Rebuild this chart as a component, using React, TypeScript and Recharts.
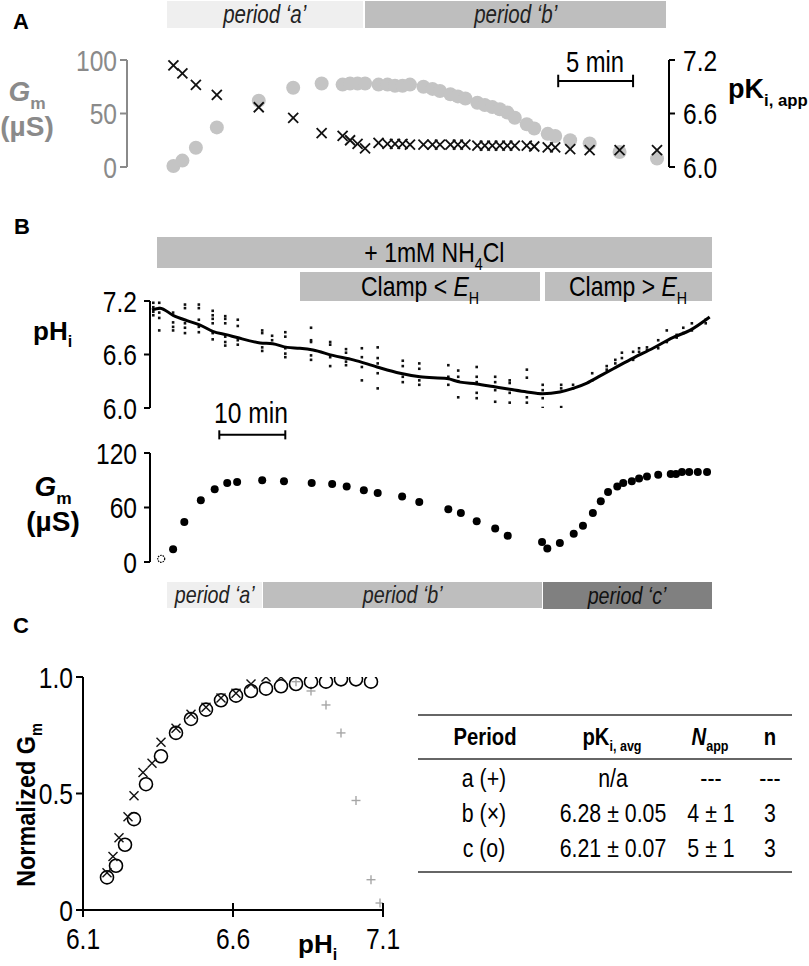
import React from 'react';
import { ScatterChart, Scatter, XAxis, YAxis, ReferenceLine } from 'recharts';

const SANS = "'Liberation Sans', Arial, sans-serif";
const NARROW_X = 0.82; // the figure's type is condensed; Arial Narrow is not installed

// ---- Panel A: time (min), Gm (µS) and pKi,app
const timeA = [0, 0.6, 1.5, 2.9, 5.7, 8.0, 9.9, 11.3, 11.8, 12.3, 12.8, 13.7, 14.3, 14.8, 15.3, 15.8, 16.7, 17.3, 17.8, 18.5, 19.0, 19.5, 20.3, 20.8, 21.3, 21.8, 22.3, 22.8, 23.6, 24.1, 25.0, 25.5, 26.5, 27.8, 29.8, 32.3];
const gmA = [1, 6, 18, 37, 62, 74, 78, 77, 78, 78, 78, 77, 77, 76, 76, 77, 75, 73, 71, 68, 66, 64, 60, 58, 56, 54, 51, 46, 40, 36, 31, 29, 25, 22, 14, 8];
const pKiA = [7.14, 7.05, 6.92, 6.81, 6.67, 6.55, 6.38, 6.35, 6.30, 6.26, 6.21, 6.27, 6.26, 6.26, 6.26, 6.25, 6.25, 6.25, 6.25, 6.25, 6.25, 6.25, 6.24, 6.24, 6.24, 6.24, 6.24, 6.24, 6.24, 6.23, 6.22, 6.22, 6.20, 6.19, 6.19, 6.19];
const gmATicks = [0, 50, 100];
const pKiTicks = [6.0, 6.6, 7.2];

// ---- Panel B: pHi mean trace, replicate dots, Gm
const timeMean = [0.3, 1.5, 3.5, 5.6, 7.6, 9.5, 11.7, 13.2, 16.7, 18.6, 20.8, 22.7, 24.7, 27.7, 30.8, 34.4, 37.9, 40.9, 45.0, 47.0, 49.5, 52.0, 54.5, 57.1, 59.5, 62.1, 64.1, 66.2, 68.2, 70.2, 73.2, 76.2, 79.2, 81.8, 84.8];
const pHiMean = [7.10, 7.12, 7.04, 6.98, 6.93, 6.86, 6.82, 6.79, 6.73, 6.72, 6.68, 6.67, 6.65, 6.59, 6.54, 6.46, 6.39, 6.35, 6.33, 6.29, 6.27, 6.24, 6.21, 6.18, 6.16, 6.18, 6.22, 6.28, 6.36, 6.44, 6.56, 6.67, 6.79, 6.87, 7.02];
const dotTimes = [0.5, 1.4, 3.5, 5.3, 7.4, 9.5, 11.4, 13.3, 17.0, 18.5, 20.5, 24.4, 27.3, 29.7, 32.1, 34.5, 38.3, 40.8, 45.2, 46.7, 49.5, 52.3, 54.5, 57.1, 59.5, 62.3, 64.1, 67.0, 69.2, 70.5, 71.5, 73.2, 74.1, 75.3, 77.0, 78.3, 79.8, 80.8, 82.1, 84.2];
const dotValues = [
  [7.18, 7.13, 7.08, 7.04],
  [7.18, 7.12, 7.07, 7.01, 6.87],
  [7.07, 6.96, 6.91, 6.87],
  [7.16, 7.12, 6.95, 6.90, 6.84],
  [7.16, 7.12, 6.99, 6.91, 6.85],
  [7.09, 7.04, 7.00, 6.95, 6.84, 6.77],
  [7.03, 7.00, 6.95, 6.80, 6.74, 6.70],
  [6.99, 6.92, 6.76, 6.71],
  [6.87, 6.84, 6.68, 6.64],
  [6.81, 6.76],
  [6.85, 6.80, 6.67, 6.61, 6.57],
  [6.90, 6.76, 6.74, 6.59, 6.54],
  [6.74, 6.71, 6.57, 6.47],
  [6.66, 6.62, 6.52, 6.48],
  [6.67, 6.57, 6.46, 6.31],
  [6.68, 6.56, 6.50, 6.39, 6.22],
  [6.53, 6.47, 6.35, 6.29],
  [6.50, 6.44, 6.31, 6.26],
  [6.48, 6.35, 6.26],
  [6.42, 6.35, 6.30, 6.12],
  [6.46, 6.35, 6.29, 6.17, 6.11],
  [6.35, 6.29, 6.20, 6.07],
  [6.31, 6.28, 6.17, 6.06],
  [6.43, 6.34, 6.12, 6.06],
  [6.26, 6.20, 6.11, 6.00],
  [6.26, 6.22, 6.01],
  [6.26, 6.22],
  [6.39, 6.31],
  [6.47, 6.43],
  [6.54, 6.50],
  [6.62, 6.56],
  [6.63, 6.54],
  [6.67, 6.63],
  [6.68, 6.65],
  [6.76, 6.67],
  [6.87, 6.74],
  [6.82, 6.79],
  [6.90, 6.84],
  [6.95, 6.87],
  [6.99, 6.95],
];
const timeGmB = [3.5, 5.2, 7.7, 9.8, 11.7, 13.2, 17.0, 20.3, 24.5, 27.6, 29.8, 32.4, 34.5, 38.2, 40.8, 45.2, 47.1, 49.5, 52.3, 54.2, 59.4, 60.2, 62.1, 64.2, 65.6, 67.1, 68.3, 69.4, 70.8, 71.7, 73.0, 74.1, 75.3, 77.0, 78.9, 79.7, 80.6, 81.7, 83.0, 84.4];
const gmB = [14, 44, 68, 80, 87, 88, 90, 89, 87, 86, 83, 79, 76, 72, 66, 58, 54, 45, 37, 29, 22, 15, 21, 31, 40, 54, 67, 77, 83, 87, 89, 92, 94, 96, 97, 97, 99, 99, 99, 99];
const gmBFirst = [{ x: 1.7, y: 3.5 }];
const pHiTicks = [6.0, 6.6, 7.2];
const gmBTicks = [0, 60, 120];

// ---- Panel C: normalized Gm vs pHi
const phC_c = [6.18, 6.21, 6.24, 6.27, 6.31, 6.36, 6.41, 6.46, 6.51, 6.56, 6.61, 6.66, 6.71, 6.76, 6.81, 6.86, 6.91, 6.96, 7.01, 7.06];
const gmC_c = [0.14, 0.19, 0.28, 0.39, 0.54, 0.66, 0.76, 0.82, 0.86, 0.90, 0.92, 0.94, 0.95, 0.96, 0.97, 0.98, 0.98, 0.99, 0.99, 0.98];
const phC_b = [6.18, 6.20, 6.22, 6.25, 6.27, 6.30, 6.33, 6.36, 6.41, 6.46, 6.51, 6.56, 6.61, 6.66, 6.71, 6.76];
const gmC_b = [0.16, 0.23, 0.31, 0.40, 0.49, 0.59, 0.63, 0.72, 0.78, 0.84, 0.87, 0.91, 0.93, 0.97, 1.00, 1.00];
const phC_a = [6.81, 6.86, 6.91, 6.96, 7.01, 7.06, 7.09];
const gmC_a = [0.98, 0.94, 0.88, 0.76, 0.47, 0.13, 0.03];
const phTicksC = [6.1, 6.6, 7.1];
const gmTicksC = [0, 0.5, 1.0];

// ---- Table
const tableRows = [
  ['a (+)', 'n/a', '---', '---'],
  ['b (×)', '6.28 ± 0.05', '4 ± 1', '3'],
  ['c (o)', '6.21 ± 0.07', '5 ± 1', '3'],
];

const pts = (xs: number[], ys: number[]) => xs.map((x, i) => ({ x, y: ys[i] }));
const dotPts = dotTimes.flatMap((t, i) => dotValues[i].map((v) => ({ x: t, y: v })));

const xMark = (h: number, color: string, w: number) => (p: any) => (
  <g>
    <line x1={p.cx - h} y1={p.cy - h} x2={p.cx + h} y2={p.cy + h} stroke={color} strokeWidth={w} />
    <line x1={p.cx - h} y1={p.cy + h} x2={p.cx + h} y2={p.cy - h} stroke={color} strokeWidth={w} />
  </g>
);
const plusMark = (h: number, color: string, w: number) => (p: any) => (
  <g>
    <line x1={p.cx - h} y1={p.cy} x2={p.cx + h} y2={p.cy} stroke={color} strokeWidth={w} />
    <line x1={p.cx} y1={p.cy - h} x2={p.cx} y2={p.cy + h} stroke={color} strokeWidth={w} />
  </g>
);
const disc = (r: number, fill: string) => (p: any) => <circle cx={p.cx} cy={p.cy} r={r} fill={fill} />;
const ring = (r: number) => (p: any) => <circle cx={p.cx} cy={p.cy} r={r} fill="none" stroke="#000" strokeWidth={1.6} />;
const square = (p: any) => <rect x={p.cx - 1.3} y={p.cy - 1.3} width={2.6} height={2.6} fill="#111" />;
const nothing = () => <g />;

const f1 = (v: number) => v.toFixed(1);

// condensed tick text
const narrowTick = (anchor: string, dy: string, fill = '#000', size = 30, fmt?: (v: number) => string) => (p: any) => (
  <g transform={`translate(${p.x},${p.y}) scale(${NARROW_X},1)`}>
    <text x={0} y={0} dy={dy} textAnchor={anchor} fill={fill} fontSize={size} fontFamily={SANS}>
      {fmt ? fmt(p.payload.value) : String(p.payload.value)}
    </text>
  </g>
);

// x tick for panel C: mark crossing the axis line, then condensed label
const crossTickC = (gap: number) => (p: any) => (
  <g>
    <line x1={p.x} x2={p.x} y1={p.y - gap - 7} y2={p.y - gap + 7} stroke="#000" strokeWidth={2} />
    <g transform={`translate(${p.x},${p.y}) scale(${NARROW_X},1)`}>
      <text x={0} y={0} dy="0.71em" textAnchor="middle" fill="#000" fontSize={30} fontFamily={SANS}>
        {f1(p.payload.value)}
      </text>
    </g>
  </g>
);

function Txt({ x, y, children, style, sx = NARROW_X }: any) {
  return (
    <div style={{ position: 'absolute', left: x, top: y, transform: `translate(-50%, -50%) scaleX(${sx})`, whiteSpace: 'nowrap', lineHeight: 1, ...style }}>
      {children}
    </div>
  );
}

function Band({ x0, x1, y0, y1, fill, children, style }: any) {
  return (
    <div style={{ position: 'absolute', left: x0, top: y0, width: x1 - x0, height: y1 - y0, background: fill, display: 'flex', alignItems: 'center', justifyContent: 'center', whiteSpace: 'nowrap', color: '#222', lineHeight: 1, ...style }}>
      <span style={{ display: 'inline-block', transform: `scaleX(${NARROW_X})` }}>{children}</span>
    </div>
  );
}

const periodStyle = { fontStyle: 'italic', fontSize: 25 };
const subStyle = { fontSize: '0.62em', verticalAlign: '-0.45em', lineHeight: 0, fontStyle: 'normal' };
const bold = { fontFamily: SANS, fontWeight: 'bold' };

const scaleBar = (x0: number, x1: number, y: number, cap: number, yAxisId: any) => [
  <ReferenceLine key="h" yAxisId={yAxisId} ifOverflow="visible" segment={[{ x: x0, y }, { x: x1, y }]} stroke="#000" strokeWidth={2} />,
  <ReferenceLine key="l" yAxisId={yAxisId} ifOverflow="visible" segment={[{ x: x0, y: y - cap }, { x: x0, y: y + cap }]} stroke="#000" strokeWidth={2} />,
  <ReferenceLine key="r" yAxisId={yAxisId} ifOverflow="visible" segment={[{ x: x1, y: y - cap }, { x: x1, y: y + cap }]} stroke="#000" strokeWidth={2} />,
];

export default function App() {
  const axBlack = { stroke: '#000', strokeWidth: 2 };
  const axGrey = { stroke: '#8a8a8a', strokeWidth: 2 };
  return (
    <div style={{ position: 'absolute', left: 0, top: 0, width: 809, height: 966, background: '#fff', overflow: 'hidden', fontFamily: SANS, color: '#000' }}>
      {/* ---------- A ---------- */}
      <div style={{ position: 'absolute', left: 13, top: 9, fontSize: 22, ...bold }}>A</div>
      <Band x0={167} x1={363} y0={1} y1={28} fill="#efefef" style={periodStyle}>period ‘a’</Band>
      <Band x0={365} x1={666} y0={1} y1={28} fill="#bebebe" style={periodStyle}>period ‘b’</Band>
      <div style={{ position: 'absolute', left: 0, top: 0 }}>
        <ScatterChart width={809} height={190} margin={{ top: 60, right: 80, bottom: 23, left: 67 }}>
          <XAxis type="number" dataKey="x" hide domain={[-3.1, 33.1]} allowDataOverflow />
          <YAxis yAxisId="l" orientation="left" type="number" dataKey="y" domain={[0, 100]} ticks={gmATicks} width={60}
            axisLine={axGrey} tickLine={axGrey} tick={narrowTick('end', '0.355em', '#8a8a8a', 30)} tickSize={7} tickMargin={3} />
          <YAxis yAxisId="r" orientation="right" type="number" dataKey="y" domain={[6.0, 7.2]} ticks={pKiTicks} width={60}
            axisLine={axBlack} tickLine={axBlack} tick={narrowTick('start', '0.355em', '#000', 30, f1)} tickSize={6} tickMargin={8} />
          {scaleBar(25.7, 30.7, 6.965, 0.07, 'r')}
          <Scatter yAxisId="l" data={pts(timeA, gmA)} shape={disc(7, '#c4c4c4')} isAnimationActive={false} />
          <Scatter yAxisId="r" data={pts(timeA, pKiA)} shape={xMark(5, '#111', 1.8)} isAnimationActive={false} />
        </ScatterChart>
      </div>
      <Txt x={595} y={62} style={{ fontSize: 29 }}>5 min</Txt>
      <Txt x={27} y={92} sx={1} style={{ color: '#8a8a8a', fontSize: 28, ...bold }}><i>G</i><span style={subStyle}>m</span></Txt>
      <Txt x={27} y={127} sx={1} style={{ color: '#8a8a8a', fontSize: 28, ...bold }}>(µS)</Txt>
      <div style={{ position: 'absolute', left: 728, top: 76, fontSize: 27, lineHeight: 1, ...bold }}>
        pK<span style={subStyle}>i, app</span>
      </div>

      {/* ---------- B ---------- */}
      <div style={{ position: 'absolute', left: 14, top: 214, fontSize: 22, ...bold }}>B</div>
      <Band x0={157} x1={712} y0={237} y1={268} fill="#bebebe" style={{ fontSize: 28, color: '#000' }}>
        + 1mM NH<span style={subStyle}>4</span>Cl
      </Band>
      <Band x0={300} x1={540} y0={272} y1={301} fill="#bebebe" style={{ fontSize: 28, color: '#000' }}>
        Clamp &lt; <i>E</i><span style={subStyle}>H</span>
      </Band>
      <Band x0={545} x1={712} y0={272} y1={301} fill="#bebebe" style={{ fontSize: 28, color: '#000' }}>
        Clamp &gt; <i>E</i><span style={subStyle}>H</span>
      </Band>
      <div style={{ position: 'absolute', left: 0, top: 280 }}>
        <ScatterChart width={809} height={150} margin={{ top: 21, right: 98, bottom: 22, left: 90 }}>
          <XAxis type="number" dataKey="x" hide domain={[0, 85]} allowDataOverflow />
          <YAxis type="number" dataKey="y" domain={[6.0, 7.2]} ticks={pHiTicks} width={60} allowDataOverflow
            axisLine={axBlack} tickLine={axBlack} tick={narrowTick('end', '0.355em', '#000', 30, f1)} tickSize={6} tickMargin={7} />
          <Scatter data={dotPts} shape={square} isAnimationActive={false} />
          <Scatter data={pts(timeMean, pHiMean)} shape={nothing} line={{ stroke: '#000', strokeWidth: 3 }} lineJointType="monotoneX" isAnimationActive={false} />
        </ScatterChart>
      </div>
      <div style={{ position: 'absolute', left: 33, top: 318, fontSize: 26, lineHeight: 1, ...bold }}>
        pH<span style={subStyle}>i</span>
      </div>
      <div style={{ position: 'absolute', left: 0, top: 395 }}>
        <ScatterChart width={809} height={185} margin={{ top: 58, right: 98, bottom: 18, left: 90 }}>
          <XAxis type="number" dataKey="x" hide domain={[0, 85]} allowDataOverflow />
          <YAxis type="number" dataKey="y" domain={[0, 120]} ticks={gmBTicks} width={60}
            axisLine={axBlack} tickLine={axBlack} tick={narrowTick('end', '0.355em', '#000', 30)} tickSize={6} tickMargin={7} />
          {scaleBar(10.5, 20.5, 140, 5, 0)}
          <Scatter data={gmBFirst} shape={(p: any) => <circle cx={p.cx} cy={p.cy} r={3.5} fill="none" stroke="#000" strokeWidth={1.2} strokeDasharray="1.5 1" />} isAnimationActive={false} />
          <Scatter data={pts(timeGmB, gmB)} shape={disc(4, '#000')} isAnimationActive={false} />
        </ScatterChart>
      </div>
      <Txt x={251} y={413} style={{ fontSize: 30 }}>10 min</Txt>
      <Txt x={53} y={487} sx={1} style={{ fontSize: 28, ...bold }}><i>G</i><span style={subStyle}>m</span></Txt>
      <Txt x={53} y={522} sx={1} style={{ fontSize: 28, ...bold }}>(µS)</Txt>
      <Band x0={167} x1={262} y0={582} y1={608} fill="#efefef" style={{ ...periodStyle, fontSize: 24 }}>period ‘a’</Band>
      <Band x0={263} x1={542} y0={582} y1={608} fill="#bebebe" style={{ ...periodStyle, fontSize: 24 }}>period ‘b’</Band>
      <Band x0={543} x1={712} y0={582} y1={609} fill="#808080" style={{ ...periodStyle, fontSize: 24, color: '#111' }}>period ‘c’</Band>

      {/* ---------- C ---------- */}
      <div style={{ position: 'absolute', left: 13, top: 613, fontSize: 22, ...bold }}>C</div>
      <div style={{ position: 'absolute', left: 0, top: 640 }}>
        <ScatterChart width={420} height={320} margin={{ top: 37, right: 37, bottom: 10, left: 13 }}>
          <XAxis type="number" dataKey="x" domain={[6.1, 7.1]} ticks={phTicksC} height={40} allowDataOverflow
            axisLine={axBlack} tickLine={false} tick={crossTickC(18)} tickSize={7} tickMargin={11} />
          <YAxis type="number" dataKey="y" domain={[0, 1]} ticks={gmTicksC} width={70} allowDataOverflow
            axisLine={axBlack} tickLine={axBlack} tick={narrowTick('end', '0.355em', '#000', 30, (v: number) => (v === 0 ? '0' : v.toFixed(1)))} tickSize={7} tickMargin={3} />
          <Scatter data={pts(phC_a, gmC_a)} shape={plusMark(4.5, '#a6a6a6', 1.4)} isAnimationActive={false} />
          <Scatter data={pts(phC_c, gmC_c)} shape={ring(6.5)} isAnimationActive={false} />
          <Scatter data={pts(phC_b, gmC_b)} shape={xMark(4.5, '#111', 1.4)} isAnimationActive={false} />
        </ScatterChart>
      </div>
      <div style={{ position: 'absolute', left: 26, top: 805, transform: 'translate(-50%, -50%) rotate(-90deg) scaleX(0.9)', whiteSpace: 'nowrap', fontSize: 26, lineHeight: 1, ...bold }}>
        Normalized G<i style={subStyle}>m</i>
      </div>
      <div style={{ position: 'absolute', left: 298, top: 931, fontSize: 26, lineHeight: 1, ...bold }}>
        pH<span style={subStyle}>i</span>
      </div>

      {/* ---------- table ---------- */}
      <div style={{ position: 'absolute', left: 418, top: 714, width: 374, height: 2, background: '#666' }} />
      <div style={{ position: 'absolute', left: 418, top: 758, width: 374, height: 2, background: '#666' }} />
      <div style={{ position: 'absolute', left: 418, top: 871, width: 374, height: 2, background: '#666' }} />
      <Txt x={485} y={737} sx={0.88} style={{ fontSize: 23, ...bold }}>Period</Txt>
      <Txt x={612} y={737} sx={0.88} style={{ fontSize: 23, ...bold }}>pK<span style={subStyle}>i, avg</span></Txt>
      <Txt x={710} y={737} sx={0.88} style={{ fontSize: 23, ...bold }}><i>N</i><span style={subStyle}>app</span></Txt>
      <Txt x={770} y={737} sx={0.88} style={{ fontSize: 23, ...bold }}>n</Txt>
      {tableRows.map((row, r) =>
        row.map((cell, c) => (
          <Txt key={`${r}-${c}`} x={[484, 613, 711, 770][c]} y={778 + r * 35} style={{ fontSize: 26 }}>{cell}</Txt>
        ))
      )}
    </div>
  );
}
